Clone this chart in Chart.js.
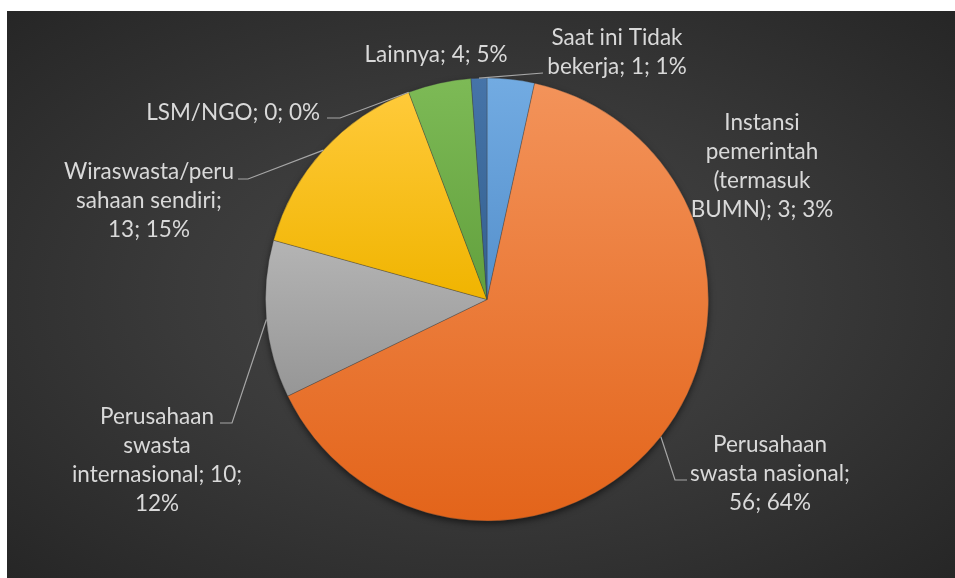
<!DOCTYPE html>
<html>
<head>
<meta charset="utf-8">
<script src="https://cdn.jsdelivr.net/npm/chart.js@4"></script>
<style>
  body { margin: 0; background: #ffffff; }
  #wadah { position: relative; width: 955px; height: 578px; }
  #latar {
    position: absolute; left: 7px; top: 11px; right: 0; bottom: 0;
    background: radial-gradient(ellipse at 50% 50%, #484848 0%, #3a3a3a 45%, #262626 100%);
  }
  #grafik { position: absolute; left: 0; top: 0; }
</style>
</head>
<body>
<div id="wadah">
  <div id="latar"></div>
  <canvas id="grafik" width="955" height="578"></canvas>
</div>
<script>
// data pekerjaan alumni
const kategori = [
  "Instansi pemerintah (termasuk BUMN)",
  "Perusahaan swasta nasional",
  "Perusahaan swasta internasional",
  "Wiraswasta/perusahaan sendiri",
  "LSM/NGO",
  "Lainnya",
  "Saat ini Tidak bekerja"
];
const jumlah = [3, 56, 10, 13, 0, 4, 1];
const persen = ["3%", "64%", "12%", "15%", "0%", "5%", "1%"];

// teks label seperti dibungkus di gambar asli
const labelBaris = [
  ["Instansi", "pemerintah", "(termasuk", "BUMN); 3; 3%"],
  ["Perusahaan", "swasta nasional;", "56; 64%"],
  ["Perusahaan", "swasta", "internasional; 10;", "12%"],
  ["Wiraswasta/peru", "sahaan sendiri;", "13; 15%"],
  ["LSM/NGO; 0; 0%"],
  ["Lainnya; 4; 5%"],
  ["Saat ini Tidak", "bekerja; 1; 1%"]
];

// warna irisan: [atas, bawah]
const warnaIrisan = [
  ["#72abe2", "#5590cc"],
  ["#f3935a", "#e3641a"],
  ["#b4b4b4", "#969696"],
  ["#ffca3a", "#f0b400"],
  ["#4472c4", "#4472c4"],
  ["#7dba56", "#62a03d"],
  ["#4674a9", "#33608f"]
];

// posisi label relatif ke pusat pie (px), garis penunjuk
const tataLabel = [
  { dx: 275, dy: -177, rata: "center" },
  { dx: 283, dy: 145, rata: "center", garis: [[188, 180.5], [200, 180.5]] },
  { dx: -330, dy: 117, rata: "center", garis: [[-255, 123.5], [-267, 123.5]] },
  { dx: -338, dy: -128, rata: "center", garis: [[-239, -120.5], [-249, -120.5]] },
  { dx: -167, dy: -186.5, rata: "right", garis: [[-147, -181.5], [-160, -181.5]] },
  { dx: -51, dy: -244.5, rata: "center" },
  { dx: 130, dy: -261.5, rata: "center", garis: [[56, -226.5]] }
];
const jarakBaris = 29;

function batasIrisan(arc) {
  const { x, y, startAngle, endAngle, outerRadius } = arc;
  const ys = [y, y + Math.sin(startAngle) * outerRadius, y + Math.sin(endAngle) * outerRadius];
  [-Math.PI / 2, Math.PI / 2, 1.5 * Math.PI, 2.5 * Math.PI].forEach((a) => {
    if (a > startAngle && a < endAngle) ys.push(y + Math.sin(a) * outerRadius);
  });
  return [Math.min(...ys), Math.max(...ys)];
}

const pluginLabel = {
  id: "labelPie",
  beforeDatasetsDraw(chart) {
    const meta = chart.getDatasetMeta(0);
    const ctx = chart.ctx;
    // gradasi per irisan
    meta.data.forEach((arc, i) => {
      const [atas, bawah] = batasIrisan(arc);
      if (bawah - atas < 1) return;
      const g = ctx.createLinearGradient(0, atas, 0, bawah);
      g.addColorStop(0, warnaIrisan[i][0]);
      g.addColorStop(1, warnaIrisan[i][1]);
      arc.options.backgroundColor = g;
    });
    const arc = meta.data[0];
    if (!arc) return;
    ctx.save();
    ctx.shadowColor = "rgba(0,0,0,0.6)";
    ctx.shadowBlur = 7;
    ctx.shadowOffsetY = 3;
    ctx.fillStyle = "#3a3a3a";
    ctx.beginPath();
    ctx.arc(arc.x, arc.y, arc.outerRadius - 0.5, 0, Math.PI * 2);
    ctx.fill();
    ctx.restore();
  },
  afterDatasetsDraw(chart) {
    const ctx = chart.ctx;
    const meta = chart.getDatasetMeta(0);
    ctx.save();
    ctx.font = "22.5px Lato";
    ctx.fillStyle = "#d9d9d9";
    ctx.strokeStyle = "#a6a6a6";
    ctx.lineWidth = 1.2;
    ctx.textBaseline = "middle";
    meta.data.forEach((arc, i) => {
      const { x, y, startAngle, endAngle, outerRadius } = arc;
      const tata = tataLabel[i];
      if (tata.garis) {
        const tengah = (startAngle + endAngle) / 2;
        ctx.beginPath();
        ctx.moveTo(x + Math.cos(tengah) * outerRadius, y + Math.sin(tengah) * outerRadius);
        tata.garis.forEach((p) => ctx.lineTo(x + p[0], y + p[1]));
        ctx.stroke();
      }
      ctx.textAlign = tata.rata;
      labelBaris[i].forEach((baris, k) => {
        ctx.fillText(baris, x + tata.dx, y + tata.dy + k * jarakBaris);
      });
    });
    ctx.restore();
  }
};

const ctx = document.getElementById("grafik").getContext("2d");
new Chart(ctx, {
  type: "pie",
  data: {
    labels: kategori,
    datasets: [
      {
        data: jumlah,
        backgroundColor: warnaIrisan.map((w) => w[0]),
        borderColor: "rgba(60,60,60,0.35)",
        borderWidth: 1
      }
    ]
  },
  options: {
    responsive: false,
    animation: false,
    layout: { padding: { left: 265, right: 246, top: 77, bottom: 56 } },
    plugins: {
      legend: { display: false },
      tooltip: { enabled: false }
    }
  },
  plugins: [pluginLabel]
});
</script>
</body>
</html>
